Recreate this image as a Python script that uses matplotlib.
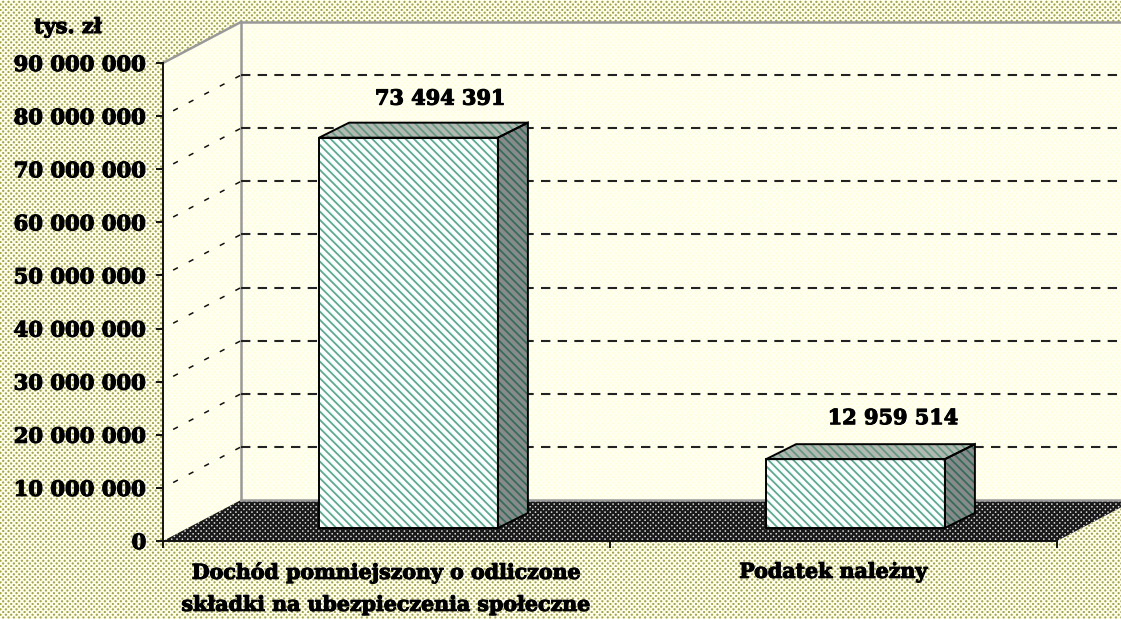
# -*- coding: utf-8 -*-
import numpy as np
from matplotlib import pyplot as plt
from matplotlib import patheffects
from matplotlib.patches import Polygon
from matplotlib.transforms import IdentityTransform

categories = ["Dochód pomniejszony o odliczone\nskładki na ubezpieczenia społeczne", "Podatek należny"]
values = [73494391, 12959514]
value_labels = ["73 494 391", "12 959 514"]
tick_values = [0, 10000000, 20000000, 30000000, 40000000, 50000000, 60000000, 70000000, 80000000, 90000000]
tick_labels = ["0", "10 000 000", "20 000 000", "30 000 000", "40 000 000", "50 000 000",
               "60 000 000", "70 000 000", "80 000 000", "90 000 000"]
unit_label = "tys. zł"

W, H = 1121, 619
FONT = "DejaVu Serif"
WALL = (78, 41)  # przesuniecie tylnej sciany w pikselach
BAR_FRONT = (22, 13)
BAR_BACK = (52, 28)
BAR_WIDTH = 0.4
LABEL_OFFSETS = [(54, 52), (60, 54)]

plt.rcParams['hatch.linewidth'] = 1.3


def dots(base, dot, px, py, size):
    # tekstura z przesunietych kropek, jak dither w oryginale
    yy, xx = np.mgrid[0:H, 0:W]
    rows = np.floor(yy / (py / 2))
    cx = (xx + (rows % 2) * px / 2) % px - px / 2
    cy = yy % (py / 2) - py / 4
    a = np.clip(size + 0.5 - np.sqrt(cx ** 2 + cy ** 2), 0, 1)[..., None]
    out = np.array(base) * (1 - a) + np.array(dot) * a
    return out.astype(np.uint8)


heavy = [patheffects.withStroke(linewidth=0.8, foreground="black")]

fig = plt.figure(figsize=(W / 100, H / 100), dpi=100)
fig.suppressComposite = True
fig.patch.set_facecolor("#e0e0a8")

ax = fig.add_axes([163 / W, (H - 541) / H, (1057 - 163) / W, (541 - 63) / H])
ax.set_xlim(0, 2)
ax.set_ylim(0, 90000000)
ax.patch.set_visible(False)
ax.set_zorder(5)


def px(x, y, off=(0, 0)):
    p = ax.transData.transform((x, y))
    return (p[0] + off[0], p[1] + off[1])


def poly(points, **kw):
    return Polygon(points, closed=True, transform=IdentityTransform(), clip_on=False, **kw)


top = tick_values[-1]
side_wall = [px(0, 0), px(0, top), px(0, top, WALL), px(0, 0, WALL)]
back_wall = [px(0, 0, WALL), px(0, top, WALL), px(2.2, top, WALL), px(2.2, 0, WALL)]
floor = [px(0, 0), px(2, 0), px(2, 0, WALL), px(0, 0, WALL)]

# tlo, sciany i podloga jako tekstury przyciete do wielokatow
fig.figimage(dots((255, 255, 240), (165, 165, 70), 5.35, 5.4, 1.1), zorder=0)
wall_tex = dots((255, 255, 245), (255, 255, 215), 5.35, 5.4, 1.2)
for pts in (side_wall, back_wall):
    im = fig.figimage(wall_tex, zorder=1)
    im.set_clip_path(poly(pts))
im = fig.figimage(dots((25, 25, 25), (225, 225, 225), 5.35, 5.4, 0.8), zorder=2)
im.set_clip_path(poly(floor))

# krawedzie scian
for a, b in ((px(0, top), px(0, top, WALL)), (px(0, top, WALL), px(2.2, top, WALL)),
             (px(0, top, WALL), px(0, 0, WALL)), (px(0, 0, WALL), px(2.2, 0, WALL))):
    ax.plot([a[0], b[0]], [a[1], b[1]], color="#999999", lw=1.8, transform=IdentityTransform(),
            clip_on=False, zorder=1)

# linie siatki
for t in tick_values[1:-1]:
    a, b = px(0, t, (WALL[0] * 0.13, WALL[1] * 0.13)), px(0, t, WALL)
    ax.plot([a[0], b[0]], [a[1], b[1]], color="#111111", lw=1.1, dashes=(3.5, 8),
            transform=IdentityTransform(), clip_on=False, zorder=1)
    a, b = px(0, t, WALL), px(2.2, t, WALL)
    ax.plot([a[0], b[0]], [a[1], b[1]], color="#222222", lw=1.5, dashes=(4.5, 3.5),
            transform=IdentityTransform(), clip_on=False, zorder=1)

# slupki
for i, v in enumerate(values):
    l, r = i + 0.5 - BAR_WIDTH / 2, i + 0.5 + BAR_WIDTH / 2
    front = [px(l, 0, BAR_FRONT), px(r, 0, BAR_FRONT), px(r, v, BAR_FRONT), px(l, v, BAR_FRONT)]
    side = [px(r, 0, BAR_FRONT), px(r, 0, BAR_BACK), px(r, v, BAR_BACK), px(r, v, BAR_FRONT)]
    cap = [px(l, v, BAR_FRONT), px(r, v, BAR_FRONT), px(r, v, BAR_BACK), px(l, v, BAR_BACK)]
    for pts, face, stripe in ((front, "#ffffff", "#55ad90"), (side, "#8a8a8a", "#2f6f5c"),
                              (cap, "#b4b8b0", "#5f9a85")):
        ax.add_patch(poly(pts, facecolor=face, edgecolor=stripe, hatch="\\\\\\\\", lw=0, zorder=3))
        ax.add_patch(poly(pts, fill=False, edgecolor="black", lw=1.4, zorder=4))
    ax.annotate(value_labels[i], xy=(i + 0.5, v), xytext=LABEL_OFFSETS[i], textcoords="offset pixels",
                ha="center", va="center", family=FONT, weight="bold", fontsize=15,
                path_effects=heavy, annotation_clip=False, zorder=6)

# osie
for s in ("top", "right"):
    ax.spines[s].set_visible(False)
for s in ("left", "bottom"):
    ax.spines[s].set_linewidth(1.4)
    ax.spines[s].set_color("#111111")
ax.set_yticks(tick_values, tick_labels, family=FONT, weight="bold", fontsize=15.2, path_effects=heavy)
ax.tick_params(axis="y", length=5, width=1.3, pad=7)
ax.set_xticks([0, 1, 2], ["", "", ""])
ax.tick_params(axis="x", which="major", length=5, width=1.3)
ax.set_xticks([0.5, 1.5], categories, minor=True, family=FONT, weight="bold", fontsize=14.8,
              path_effects=heavy, linespacing=1.75)
ax.tick_params(axis="x", which="minor", length=0, pad=15)

fig.text(68 / W, (H - 27) / H, unit_label, ha="center", va="center", family=FONT, weight="bold",
         fontsize=15, path_effects=heavy)

fig.savefig("out.png", dpi=100)
